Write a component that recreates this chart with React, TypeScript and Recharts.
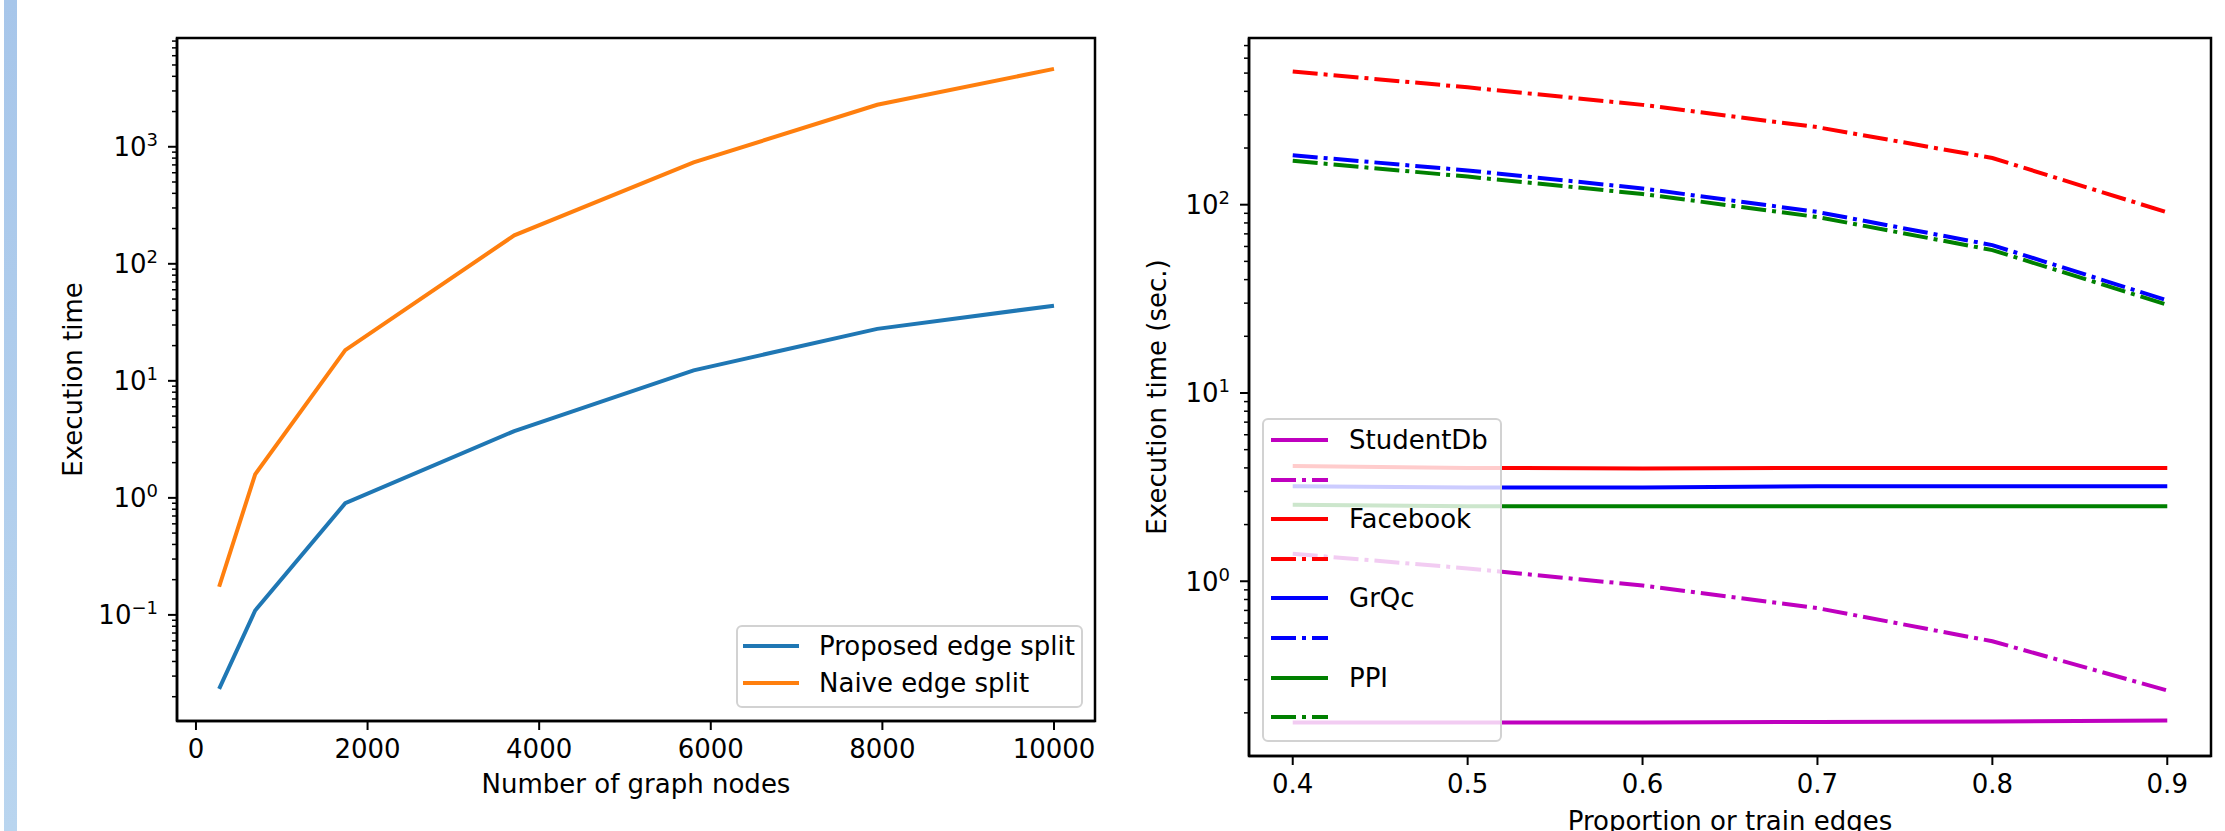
import React from "react";
import { LineChart, Line, XAxis, YAxis, Legend, ReferenceArea } from "recharts";

const FONT = '"DejaVu Sans", sans-serif';

// left panel: edge split cost vs graph size
const graphNodes = [270, 690, 1740, 3710, 5800, 7940, 10000];
const proposedSplit = [0.0233, 0.109, 0.9, 3.72, 12.3, 27.8, 43.9];
const naiveSplit = [0.174, 1.59, 18.3, 175, 735, 2285, 4630];
const nodeTicks = [0, 2000, 4000, 6000, 8000, 10000];

// right panel: execution time vs proportion of train edges
const trainProportion = [0.4, 0.5, 0.6, 0.7, 0.8, 0.9];
const studentSolid = [0.178, 0.178, 0.178, 0.179, 0.18, 0.182];
const studentDashDot = [1.4, 1.17, 0.95, 0.72, 0.48, 0.263];
const facebookSolid = [4.1, 4.0, 3.97, 4.0, 4.0, 4.0];
const facebookDashDot = [510, 420, 339, 258, 177, 91];
const grqcSolid = [3.2, 3.15, 3.15, 3.2, 3.2, 3.2];
const grqcDashDot = [183, 152, 122, 91.5, 61, 31];
const ppiSolid = [2.55, 2.5, 2.5, 2.5, 2.5, 2.5];
const ppiDashDot = [171, 141, 114, 86, 57.4, 29.4];
const proportionTicks = [0.4, 0.5, 0.6, 0.7, 0.8, 0.9];

const leftMajors = [0.1, 1, 10, 100, 1000];
const rightMajors = [1, 10, 100];
const leftYDomain = [0.0124, 8500];
const rightYDomain = [0.118, 768];

const withMinors = (majors: number[], domain: number[]) => {
  const out: number[] = [];
  [majors[0] / 10, ...majors].forEach((m) => {
    for (let k = 1; k <= 9; k++) {
      const v = +(m * k).toPrecision(6);
      if (v >= domain[0] && v <= domain[1]) out.push(v);
    }
  });
  return out;
};

const nodeRows = graphNodes.map((n, i) => ({
  nodes: n,
  proposed: proposedSplit[i],
  naive: naiveSplit[i],
}));

const trainRows = trainProportion.map((p, i) => ({
  p,
  studentSolid: studentSolid[i],
  studentDashDot: studentDashDot[i],
  facebookSolid: facebookSolid[i],
  facebookDashDot: facebookDashDot[i],
  grqcSolid: grqcSolid[i],
  grqcDashDot: grqcDashDot[i],
  ppiSolid: ppiSolid[i],
  ppiDashDot: ppiDashDot[i],
}));

const DASH_DOT = "25 6 4 6";

const rightSeries = [
  { key: "studentSolid", color: "#bf00bf", dash: undefined, label: "StudentDb" },
  { key: "studentDashDot", color: "#bf00bf", dash: DASH_DOT, label: "" },
  { key: "facebookSolid", color: "#ff0000", dash: undefined, label: "Facebook" },
  { key: "facebookDashDot", color: "#ff0000", dash: DASH_DOT, label: "" },
  { key: "grqcSolid", color: "#0000ff", dash: undefined, label: "GrQc" },
  { key: "grqcDashDot", color: "#0000ff", dash: DASH_DOT, label: "" },
  { key: "ppiSolid", color: "#008000", dash: undefined, label: "PPI" },
  { key: "ppiDashDot", color: "#008000", dash: DASH_DOT, label: "" },
];

const leftSeries = [
  { key: "proposed", color: "#1f77b4", dash: undefined, label: "Proposed edge split" },
  { key: "naive", color: "#ff7f0e", dash: undefined, label: "Naive edge split" },
];

const axisStroke = { stroke: "#000", strokeWidth: 2.5 };
const tickFont = { fill: "#000", fontSize: 26, fontFamily: FONT };

// log ticks drawn by hand so minor ticks get shorter lines and no label
const LogTick = (props: any) => {
  const { x, y, payload } = props;
  const lg = Math.log10(payload.value);
  const e = Math.round(lg);
  const major = Math.abs(lg - e) < 1e-6;
  return (
    <g>
      <line
        x1={x - (major ? 9 : 5)}
        x2={x}
        y1={y}
        y2={y}
        stroke="#000"
        strokeWidth={major ? 2 : 1.5}
      />
      {major && (
        <text
          x={x - 19}
          y={y}
          dy={9.5}
          textAnchor="end"
          fill="#000"
          fontSize={26}
          fontFamily={FONT}
        >
          10
          <tspan fontSize={18} dy={-10}>
            {e < 0 ? "\u2212" + Math.abs(e) : String(e)}
          </tspan>
        </text>
      )}
    </g>
  );
};

type Item = { color: string; dash?: string; label: string };

const LegendBox = ({
  items,
  width,
  height,
  rowTop,
  rowGap,
  handleX,
  handleLen,
  textX,
}: {
  items: Item[];
  width: number;
  height: number;
  rowTop: number;
  rowGap: number;
  handleX: number;
  handleLen: number;
  textX: number;
}) => (
  <div
    style={{
      position: "relative",
      width,
      height,
      boxSizing: "border-box",
      border: "2px solid #d2d2d2",
      borderRadius: 6,
      background: "rgba(255,255,255,0.8)",
      fontFamily: FONT,
      fontSize: 26,
      color: "#000",
    }}
  >
    {items.map((it, i) => (
      <div
        key={i}
        style={{
          position: "absolute",
          left: 0,
          top: rowTop + i * rowGap - 18,
          height: 36,
          width: "100%",
        }}
      >
        <svg
          width={handleLen}
          height={36}
          style={{ position: "absolute", left: handleX, top: 0 }}
        >
          <line
            x1={0}
            x2={handleLen}
            y1={18}
            y2={18}
            stroke={it.color}
            strokeWidth={4}
            strokeDasharray={it.dash}
          />
        </svg>
        {it.label && (
          <span
            style={{
              position: "absolute",
              left: textX,
              top: 0,
              lineHeight: "36px",
              whiteSpace: "nowrap",
            }}
          >
            {it.label}
          </span>
        )}
      </div>
    ))}
  </div>
);

const App = () => {
  const leftTicks = withMinors(leftMajors, leftYDomain);
  const rightTicks = withMinors(rightMajors, rightYDomain);
  const leftX = [-221, 10478];
  const rightX = [0.375, 0.925];

  return (
    <div
      style={{
        position: "absolute",
        left: 0,
        top: 0,
        width: 2225,
        height: 831,
        background: "#fff",
        overflow: "hidden",
        fontFamily: FONT,
      }}
    >
      <div
        style={{
          position: "absolute",
          left: 4,
          top: 0,
          width: 13,
          height: 831,
          background: "linear-gradient(#a7c6ea, #b9d5ef)",
        }}
      />

      <div style={{ position: "absolute", left: 0, top: 0 }}>
        <LineChart
          width={1140}
          height={831}
          data={nodeRows}
          margin={{ top: 38, right: 45, bottom: 0, left: 0 }}
        >
          <XAxis
            dataKey="nodes"
            type="number"
            domain={leftX}
            allowDataOverflow
            ticks={nodeTicks}
            interval={0}
            height={110}
            tickSize={9}
            tickMargin={10}
            tickLine={{ stroke: "#000", strokeWidth: 2 }}
            axisLine={axisStroke}
            tick={tickFont}
            label={{
              value: "Number of graph nodes",
              position: "insideBottom",
              offset: 38,
              fill: "#000",
              fontSize: 26,
              fontFamily: FONT,
            }}
          />
          <YAxis
            type="number"
            scale="log"
            domain={leftYDomain}
            allowDataOverflow
            ticks={leftTicks}
            interval={0}
            width={177}
            tickSize={0}
            tickMargin={0}
            tickLine={false}
            tick={<LogTick />}
            axisLine={axisStroke}
            label={{
              value: "Execution time",
              angle: -90,
              position: "insideLeft",
              offset: 73,
              fill: "#000",
              fontSize: 26,
              fontFamily: FONT,
              style: { textAnchor: "middle" },
            }}
          />
          {/* axes frame */}
          <ReferenceArea
            x1={leftX[0]}
            x2={leftX[1]}
            y1={leftYDomain[0]}
            y2={leftYDomain[1]}
            fill="none"
            stroke="#000"
            strokeWidth={2.5}
            ifOverflow="visible"
          />
          {leftSeries.map((s) => (
            <Line
              key={s.key}
              type="linear"
              dataKey={s.key}
              stroke={s.color}
              strokeWidth={4}
              dot={false}
              isAnimationActive={false}
            />
          ))}
          <Legend
            layout="horizontal"
            verticalAlign="middle"
            align="center"
            wrapperStyle={{ left: 736, top: 625, width: 347, height: 83 }}
            content={() => (
              <LegendBox
                items={leftSeries}
                width={347}
                height={83}
                rowTop={19}
                rowGap={37}
                handleX={5}
                handleLen={56}
                textX={81}
              />
            )}
          />
        </LineChart>
      </div>

      <div style={{ position: "absolute", left: 1120, top: 0 }}>
        <LineChart
          width={1105}
          height={831}
          data={trainRows}
          margin={{ top: 38, right: 14, bottom: 0, left: 0 }}
        >
          <XAxis
            dataKey="p"
            type="number"
            domain={rightX}
            allowDataOverflow
            ticks={proportionTicks}
            interval={0}
            height={75}
            tickSize={9}
            tickMargin={10}
            tickLine={{ stroke: "#000", strokeWidth: 2 }}
            axisLine={axisStroke}
            tick={tickFont}
            label={{
              value: "Proportion or train edges",
              position: "insideBottom",
              offset: 1,
              fill: "#000",
              fontSize: 26,
              fontFamily: FONT,
            }}
          />
          <YAxis
            type="number"
            scale="log"
            domain={rightYDomain}
            allowDataOverflow
            ticks={rightTicks}
            interval={0}
            width={129}
            tickSize={0}
            tickMargin={0}
            tickLine={false}
            tick={<LogTick />}
            axisLine={axisStroke}
            label={{
              value: "Execution time (sec.)",
              angle: -90,
              position: "insideLeft",
              offset: 37,
              fill: "#000",
              fontSize: 26,
              fontFamily: FONT,
              style: { textAnchor: "middle" },
            }}
          />
          <ReferenceArea
            x1={rightX[0]}
            x2={rightX[1]}
            y1={rightYDomain[0]}
            y2={rightYDomain[1]}
            fill="none"
            stroke="#000"
            strokeWidth={2.5}
            ifOverflow="visible"
          />
          {rightSeries.map((s) => (
            <Line
              key={s.key}
              type="linear"
              dataKey={s.key}
              stroke={s.color}
              strokeWidth={4}
              strokeDasharray={s.dash}
              dot={false}
              isAnimationActive={false}
            />
          ))}
          <Legend
            layout="horizontal"
            verticalAlign="middle"
            align="center"
            wrapperStyle={{ left: 142, top: 418, width: 240, height: 324 }}
            content={() => (
              <LegendBox
                items={rightSeries}
                width={240}
                height={324}
                rowTop={20}
                rowGap={39.6}
                handleX={7}
                handleLen={57}
                textX={85}
              />
            )}
          />
        </LineChart>
      </div>
    </div>
  );
};

export default App;
